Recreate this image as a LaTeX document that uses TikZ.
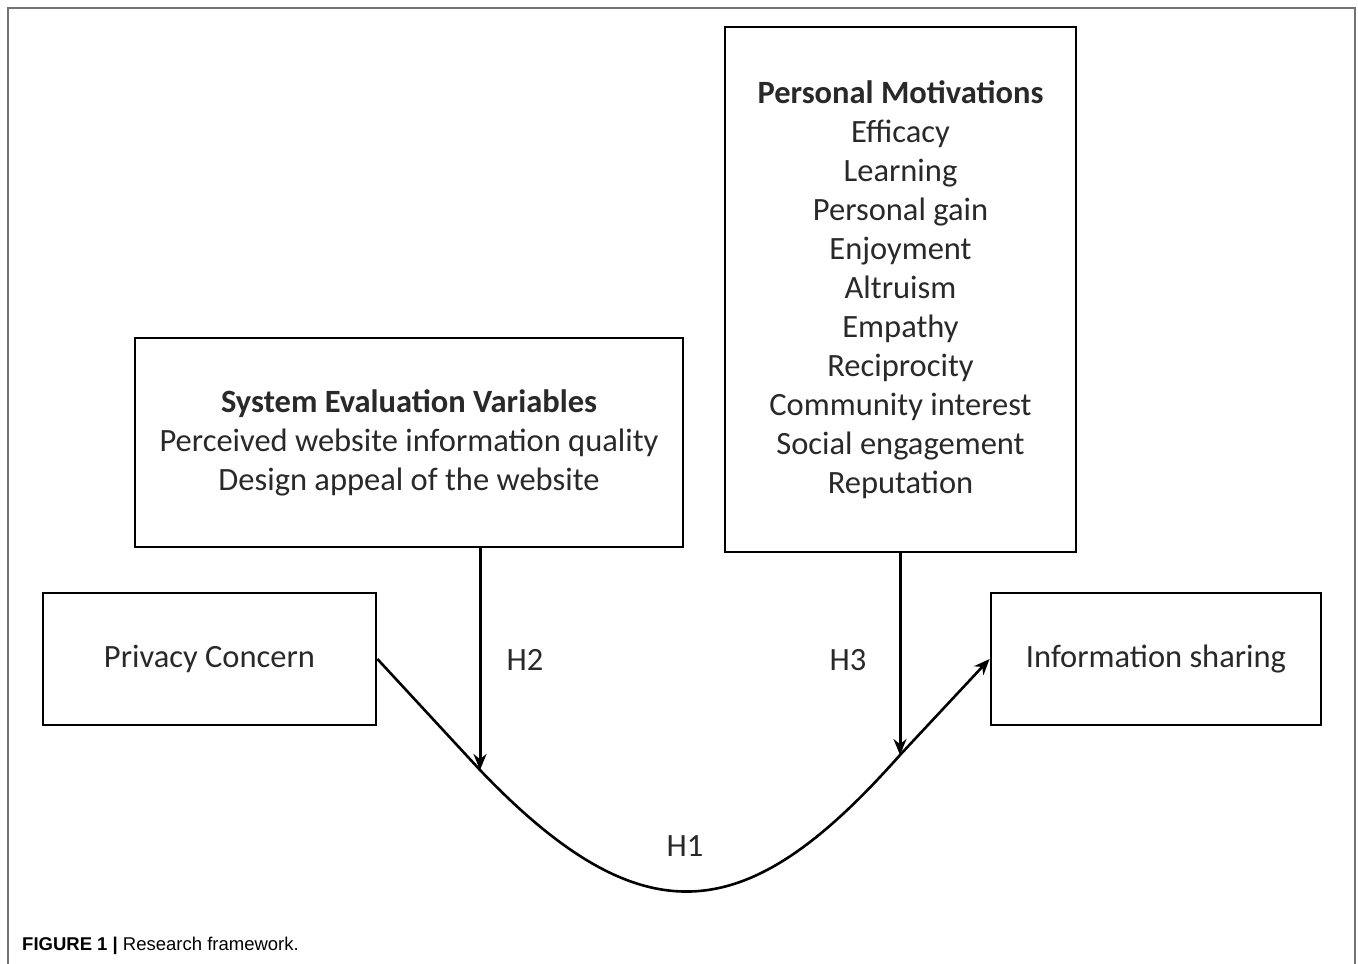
\documentclass[tikz,border=0pt]{standalone}
\usepackage{fontspec}
\setmainfont{Carlito}
\newfontfamily\capfont{Liberation Sans}
\usetikzlibrary{arrows.meta}
\definecolor{framegray}{rgb}{0.45, 0.45, 0.45}
\definecolor{inkgray}{rgb}{0.16, 0.16, 0.16}
\def\boxfont{\fontsize{32.5}{39}\selectfont}
\tikzset{
  varbox/.style={draw=black, line width=2.8pt, align=center, inner sep=0pt, text=inkgray, font=\boxfont},
  hyparrow/.style={line width=3pt, -{Stealth[length=16pt, width=13pt]}},
  hyplabel/.style={text=inkgray, font=\boxfont},
}

\begin{document}
\begin{tikzpicture}[x=1pt, y=1pt]
  \useasboundingbox (0,0) rectangle (1358,-964);
  % outer frame, open at the bottom
  \draw[framegray, line width=1.5pt] (8,-964) -- (8,-8) -- (1355,-8) -- (1355,-964);

  % variable boxes
  \node[varbox, minimum width=351pt, minimum height=525pt] (pm) at (900.5,-289.5)
    {\textbf{Personal Motivations}\\Efficacy\\Learning\\Personal gain\\Enjoyment\\Altruism\\Empathy\\Reciprocity\\Community interest\\Social engagement\\Reputation};
  \node[varbox, minimum width=548pt, minimum height=209pt] (se) at (409,-442.5)
    {\textbf{System Evaluation Variables}\\Perceived website information quality\\Design appeal of the website};
  \node[varbox, minimum width=333pt, minimum height=132pt] (pc) at (209.5,-659) {Privacy Concern};
  \node[varbox, minimum width=330pt, minimum height=132pt] (is) at (1156,-659) {Information sharing};

  % the U-shaped path H1
  \coordinate (dipL) at (480,-770);
  \coordinate (dipR) at (900,-755);
  \draw[hyparrow, line width=2.6pt] (pc.east) -- (dipL) .. controls (648,-946) and (752,-922) .. (dipR) -- (is.west);

  % moderators
  \draw[hyparrow] (se.south -| dipL) -- (dipL);
  \draw[hyparrow] (pm.south -| dipR) -- (dipR);

  \node[hyplabel] (h2) at (525,-660) {H2};
  \node[hyplabel] (h3) at (848,-660) {H3};
  \node[hyplabel] (h1) at (685,-846) {H1};

  \node[anchor=west, inner sep=0pt, font=\capfont\fontsize{18.5}{22}\selectfont] (cap) at (22,-946)
    {\textbf{FIGURE 1 |} Research framework.};
\end{tikzpicture}
\end{document}
